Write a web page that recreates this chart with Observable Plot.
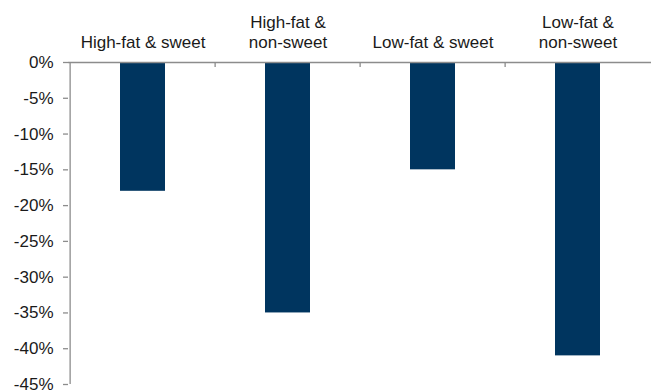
<!DOCTYPE html>
<html>
<head>
<meta charset="utf-8">
<script src="https://cdn.jsdelivr.net/npm/d3@7"></script>
<script src="https://cdn.jsdelivr.net/npm/@observablehq/plot@0.6"></script>
<style>
  html, body { margin: 0; padding: 0; background: #fff; }
  svg { display: block; }
</style>
</head>
<body>
<div id="chart"></div>
<script>
// Change in consumption by food group (%)
const categories = ["High-fat & sweet", "High-fat &\nnon-sweet", "Low-fat & sweet", "Low-fat &\nnon-sweet"];
const values = [-18, -35, -15, -41];
const yTicks = [0, -5, -10, -15, -20, -25, -30, -35, -40, -45];

const data = categories.map((c, i) => ({category: c, value: values[i]}));

const width = 651;
const marginLeft = 68;
const marginRight = 0;
const step = (width - marginLeft - marginRight) / categories.length;
const axisColor = "#8c8c8c";
const font = "Liberation Sans, Arial, sans-serif";

const chart = Plot.plot({
  width,
  height: 392,
  marginTop: 62,
  marginBottom: 8,
  marginLeft,
  marginRight,
  style: {fontFamily: font, fontSize: "17px", color: "#1a1a1a", background: "#fff"},
  x: {domain: categories, paddingInner: 0.69, paddingOuter: 0.345, align: 0.5, axis: null},
  y: {domain: [-45, 0], axis: null},
  marks: [
    Plot.barY(data, {x: "category", y1: 0, y2: "value", fill: "#00355f"}),
    // zero line and category boundary ticks
    Plot.ruleY([0], {stroke: axisColor, strokeWidth: 1.3}),
    Plot.ruleX(categories.slice(1), {dx: -step / 2, y1: 0, y2: -0.7, stroke: axisColor, strokeWidth: 1.3}),
    // vertical axis line
    Plot.ruleX([categories[0]], {dx: -step / 2, y1: 0, y2: -45, stroke: axisColor, strokeWidth: 1.3}),
    Plot.axisY(yTicks, {
      tickSize: 5,
      tickPadding: 10,
      stroke: axisColor,
      strokeWidth: 1.3,
      tickFormat: d => `${d}%`,
      fontSize: 17,
      fill: "#1a1a1a",
      label: null
    }),
    // category labels above the zero line
    Plot.text(data, {
      x: "category",
      y: 0,
      text: "category",
      dy: -15,
      lineAnchor: "bottom",
      lineHeight: 1.12,
      fontSize: 17,
      fill: "#1a1a1a"
    })
  ]
});

document.getElementById("chart").appendChild(chart);
</script>
</body>
</html>
